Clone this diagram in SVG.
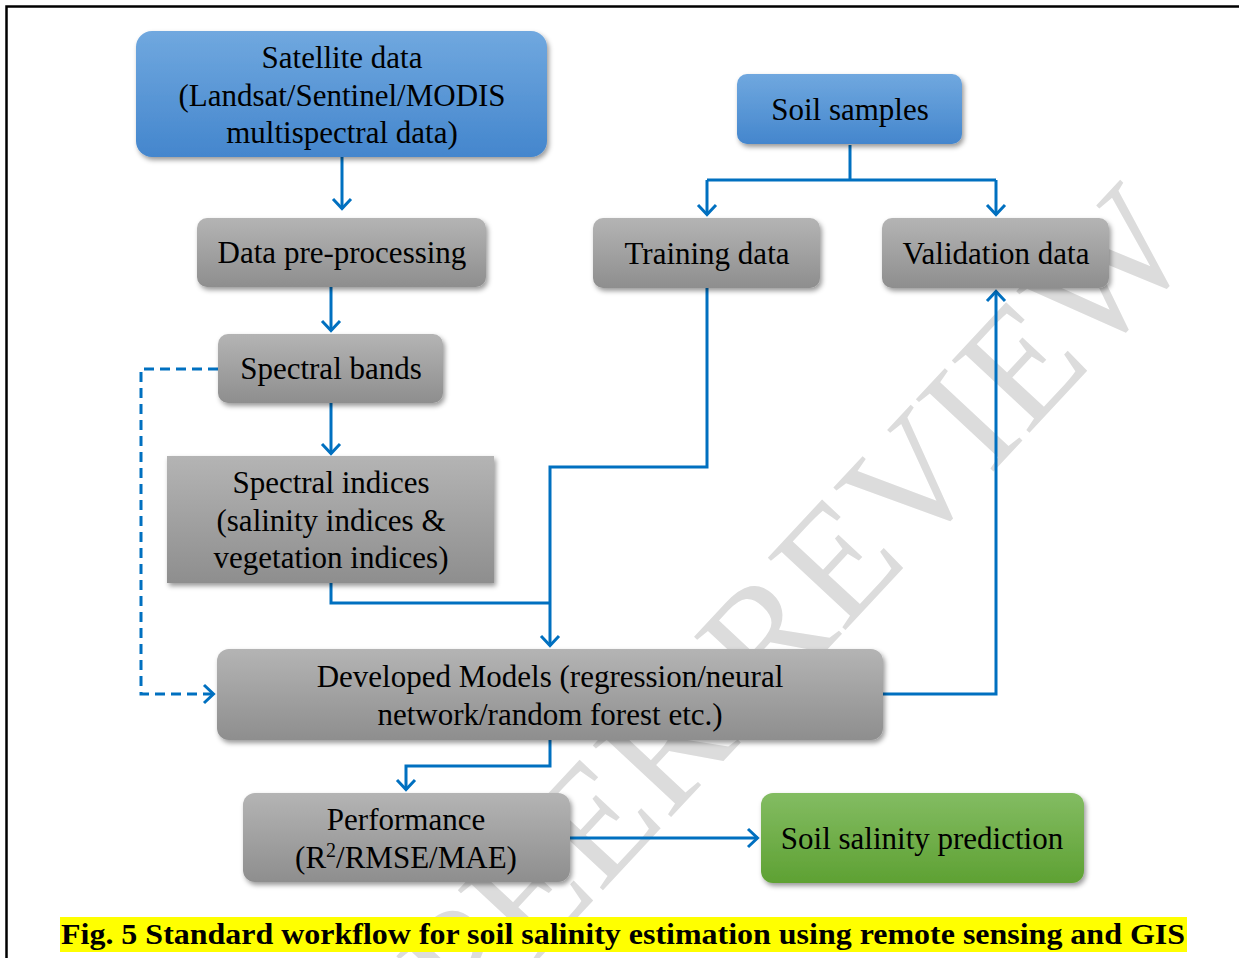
<svg xmlns="http://www.w3.org/2000/svg" width="1239" height="958" viewBox="0 0 1239 958">
<style>
.t{font-family:"Liberation Serif","Times New Roman",serif;font-size:31px;fill:#000;text-anchor:middle}
.c{fill:none;stroke:#0070C0;stroke-width:3}
.d{fill:none;stroke:#0070C0;stroke-width:3;stroke-dasharray:10 6}
.wm{font-family:"Liberation Serif","Times New Roman",serif;font-size:162px;fill:#dcdcdc}
.cap{font-family:"Liberation Serif","Times New Roman",serif;font-size:30px;font-weight:bold;fill:#000}
</style>
<defs>
<linearGradient id="gBlue" x1="0" y1="0" x2="0" y2="1">
<stop offset="0" stop-color="#70a8df"/>
<stop offset="1" stop-color="#4486cd"/>
</linearGradient>
<linearGradient id="gGray" x1="0" y1="0" x2="0" y2="1">
<stop offset="0" stop-color="#b4b4b4"/>
<stop offset="1" stop-color="#8e8e8e"/>
</linearGradient>
<linearGradient id="gGreen" x1="0" y1="0" x2="0" y2="1">
<stop offset="0" stop-color="#83bc62"/>
<stop offset="1" stop-color="#5ea133"/>
</linearGradient>
<filter id="sh" x="-10%" y="-20%" width="120%" height="150%">
<feDropShadow dx="2" dy="3" stdDeviation="2.5" flood-color="#000" flood-opacity="0.4"/>
</filter>
<marker id="ah" markerUnits="userSpaceOnUse" viewBox="-14 -12 16 24" markerWidth="16" markerHeight="24" refX="0" refY="0" orient="auto">
<path d="M-10,-9 L-0.5,0 L-10,9" fill="none" stroke="#0070C0" stroke-width="3"/>
</marker>
</defs>
<rect x="0" y="0" width="1239" height="958" fill="#fff"/>
<path d="M6.5,958 V6.5 H1239" fill="none" stroke="#000" stroke-width="2.5"/>

<g id="watermark">
<text class="wm" x="0" y="0" text-anchor="end" transform="translate(1198,252) rotate(-47)">PEER REVIEW</text>
</g>

<g id="connectors">
<path class="c" d="M342,157 V209" marker-end="url(#ah)"/>
<path class="c" d="M331,287 V331" marker-end="url(#ah)"/>
<path class="c" d="M331,403 V454" marker-end="url(#ah)"/>
<path class="c" d="M331,583 V603 H550"/>
<path class="c" d="M707,288 V467 H550 V646" marker-end="url(#ah)"/>
<path class="c" d="M850,145 V180"/>
<path class="c" d="M707,180 H996"/>
<path class="c" d="M707,180 V215" marker-end="url(#ah)"/>
<path class="c" d="M996,180 V215" marker-end="url(#ah)"/>
<path class="c" d="M883,694 H996 V291" marker-end="url(#ah)"/>
<path class="d" d="M218,369 H141 V694 H214" marker-end="url(#ah)"/>
<path class="c" d="M550,740 V766 H406 V790" marker-end="url(#ah)"/>
<path class="c" d="M570,838 H758" marker-end="url(#ah)"/>
</g>

<g id="satellite">
<rect x="136" y="31" width="411" height="126" rx="16" fill="url(#gBlue)" filter="url(#sh)"/>
<text class="t" x="342" y="68">Satellite data</text>
<text class="t" x="342" y="106">(Landsat/Sentinel/MODIS</text>
<text class="t" x="342" y="143">multispectral data)</text>
</g>

<g id="soil-samples">
<rect x="737" y="74" width="225" height="70" rx="10" fill="url(#gBlue)" filter="url(#sh)"/>
<text class="t" x="850" y="120">Soil samples</text>
</g>

<g id="preprocessing">
<rect x="197" y="218" width="289" height="69" rx="10" fill="url(#gGray)" filter="url(#sh)"/>
<text class="t" x="342" y="263">Data pre-processing</text>
</g>

<g id="training">
<rect x="593" y="218" width="227" height="70" rx="10" fill="url(#gGray)" filter="url(#sh)"/>
<text class="t" x="707" y="264">Training data</text>
</g>

<g id="validation">
<rect x="882" y="218" width="227" height="70" rx="10" fill="url(#gGray)" filter="url(#sh)"/>
<text class="t" x="996" y="264">Validation data</text>
</g>

<g id="spectral-bands">
<rect x="218" y="334" width="225" height="69" rx="10" fill="url(#gGray)" filter="url(#sh)"/>
<text class="t" x="331" y="379">Spectral bands</text>
</g>

<g id="spectral-indices">
<rect x="167" y="456" width="327" height="127" fill="url(#gGray)" filter="url(#sh)"/>
<text class="t" x="331" y="493">Spectral indices</text>
<text class="t" x="331" y="531">(salinity indices &amp;</text>
<text class="t" x="331" y="568">vegetation indices)</text>
</g>

<g id="models">
<rect x="217" y="649" width="666" height="91" rx="12" fill="url(#gGray)" filter="url(#sh)"/>
<text class="t" x="550" y="687">Developed Models (regression/neural</text>
<text class="t" x="550" y="725">network/random forest etc.)</text>
</g>

<g id="performance">
<rect x="243" y="793" width="327" height="89" rx="12" fill="url(#gGray)" filter="url(#sh)"/>
<text class="t" x="406" y="830">Performance</text>
<text class="t" x="406" y="868">(R<tspan dy="-11" font-size="20">2</tspan><tspan dy="11">/RMSE/MAE)</tspan></text>
</g>

<g id="prediction">
<rect x="761" y="793" width="323" height="90" rx="12" fill="url(#gGreen)" filter="url(#sh)"/>
<text class="t" x="922" y="849">Soil salinity prediction</text>
</g>

<g id="caption">
<rect x="60" y="917" width="1127" height="35" fill="#ffff00"/>
<text class="cap" x="61" y="944" textLength="1124" lengthAdjust="spacingAndGlyphs">Fig. 5 Standard workflow for soil salinity estimation using remote sensing and GIS</text>
</g>
</svg>
